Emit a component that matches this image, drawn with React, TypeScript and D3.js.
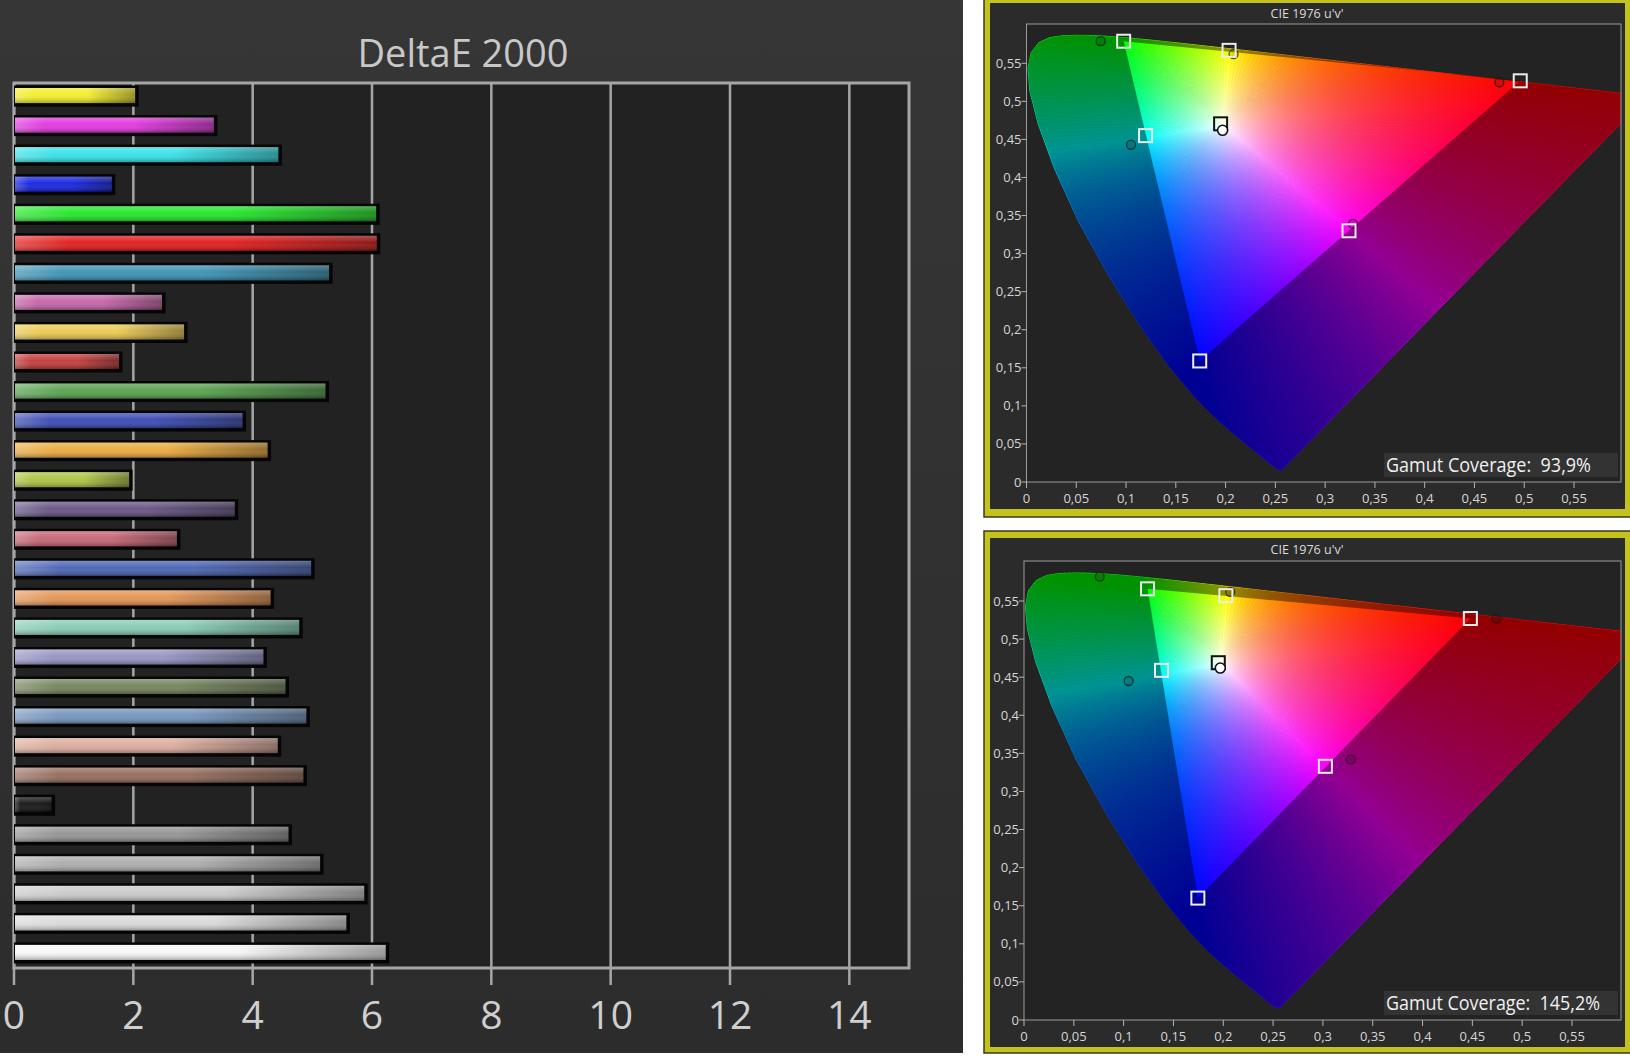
import * as d3 from "d3";

const FONT = "'Open Sans', 'Noto Sans', sans-serif";

// DeltaE 2000, one bar per measured patch, top to bottom
const PATCH_COLORS = [
  "#f2ee2a", "#e236de", "#34e2ea", "#1622e0", "#22e628", "#e21a1a",
  "#3a92b4", "#c664a8", "#ecca52", "#c23a3a", "#56a24c", "#3a4ab4",
  "#eaaa3c", "#acc444", "#665484", "#c66474", "#4a64b4", "#e49454",
  "#86ccb4", "#9494c4", "#74845c", "#7494bc", "#dcac9c", "#946c5c",
  "#141414", "#949494", "#acacac", "#cacaca", "#dadada", "#f6f6f6",
];
const DELTA_E = [
  2.03, 3.35, 4.43, 1.64, 6.07, 6.08, 5.28, 2.48, 2.85, 1.76,
  5.22, 3.83, 4.25, 1.93, 3.7, 2.73, 4.98, 4.3, 4.78, 4.18,
  4.55, 4.9, 4.42, 4.85, 0.63, 4.6, 5.13, 5.87, 5.57, 6.23,
];
const DE_TICKS = [0, 2, 4, 6, 8, 10, 12, 14];

// CIE 1931 spectral locus (x, y), 380 .. 700 nm
const LOCUS_X = [
  0.1741, 0.1733, 0.1714, 0.1689, 0.1644, 0.1566, 0.151, 0.144, 0.1355, 0.1241,
  0.1096, 0.0913, 0.0687, 0.0454, 0.0235, 0.0082, 0.0039, 0.0139, 0.0389, 0.0743,
  0.1142, 0.1547, 0.1929, 0.2296, 0.2658, 0.3016, 0.3373, 0.3731, 0.4087, 0.4441,
  0.4788, 0.5125, 0.5448, 0.5752, 0.6029, 0.627, 0.6658, 0.6915, 0.7079, 0.719,
  0.726, 0.73, 0.7334, 0.7347,
];
const LOCUS_Y = [
  0.005, 0.0048, 0.0051, 0.0069, 0.0109, 0.0177, 0.0227, 0.0297, 0.0399, 0.0578,
  0.0868, 0.1327, 0.2007, 0.295, 0.4127, 0.5384, 0.6548, 0.7502, 0.812, 0.8338,
  0.8262, 0.8059, 0.7816, 0.7543, 0.7243, 0.6923, 0.6589, 0.6245, 0.5896, 0.5547,
  0.5202, 0.4866, 0.4544, 0.4242, 0.3965, 0.3725, 0.334, 0.3083, 0.292, 0.2809,
  0.274, 0.27, 0.2666, 0.2653,
];
const D65_U = 0.1978;
const D65_V = 0.4683;
const UV_TICKS = [0, 0.05, 0.1, 0.15, 0.2, 0.25, 0.3, 0.35, 0.4, 0.45, 0.5, 0.55];

// target squares: R G B C M Y W
const P3_TARGET_U = [0.496, 0.0976, 0.174, 0.1196, 0.324, 0.2035, 0.195];
const P3_TARGET_V = [0.527, 0.579, 0.159, 0.455, 0.33, 0.567, 0.4705];
const SRGB_TARGET_U = [0.448, 0.124, 0.1745, 0.138, 0.3025, 0.2026, 0.195];
const SRGB_TARGET_V = [0.527, 0.566, 0.16, 0.459, 0.333, 0.557, 0.469];
// measured circles: R G C M Y W
const P3_MEAS_U = [0.475, 0.0745, 0.105, 0.328, 0.208, 0.197];
const P3_MEAS_V = [0.525, 0.579, 0.443, 0.339, 0.562, 0.462];
const SRGB_MEAS_U = [0.474, 0.076, 0.105, 0.328, 0.207, 0.197];
const SRGB_MEAS_V = [0.527, 0.582, 0.445, 0.342, 0.562, 0.462];
const COVERAGE = ["93,9%", "145,2%"];

type Pt = [number, number];

const toUV = (x: number, y: number): Pt => {
  const d = -2 * x + 12 * y + 3;
  return [(4 * x) / d, (9 * y) / d];
};

const bary = (p: Pt, a: Pt, b: Pt, c: Pt) => {
  const det = (b[1] - c[1]) * (a[0] - c[0]) + (c[0] - b[0]) * (a[1] - c[1]);
  const l1 = ((b[1] - c[1]) * (p[0] - c[0]) + (c[0] - b[0]) * (p[1] - c[1])) / det;
  const l2 = ((c[1] - a[1]) * (p[0] - c[0]) + (a[0] - c[0]) * (p[1] - c[1])) / det;
  return [l1, l2, 1 - l1 - l2];
};

// display colour of a chromaticity, clipped to the triangle's primaries
const colorAt = (p: Pt, tri: Pt[], wp: Pt) => {
  const l = bary(p, tri[0], tri[1], tri[2]);
  const lw = bary(wp, tri[0], tri[1], tri[2]);
  const c = l.map((v, i) => Math.max(0, v / lw[i]));
  const m = Math.max(...c) || 1;
  const [r, g, b] = c.map((v) => Math.round(255 * Math.pow(v / m, 0.85)));
  return `rgb(${r},${g},${b})`;
};

const fmtUV = (t: number) => String(Math.round(t * 100) / 100).replace(".", ",");

const PANELS = [
  {
    id: "p3",
    outer: { x: 984, y: -8, w: 660, h: 525 },
    inner: { x: 990, y: 3, w: 635, h: 506 },
    plot: { left: 1026.5, top: 24, right: 1621, bottom: 482 },
    u55: 1574,
    v55: 63.3,
    tu: P3_TARGET_U,
    tv: P3_TARGET_V,
    mu: P3_MEAS_U,
    mv: P3_MEAS_V,
    coverage: COVERAGE[0],
    covWidth: 205,
  },
  {
    id: "srgb",
    outer: { x: 984, y: 531, w: 660, h: 522 },
    inner: { x: 990, y: 538, w: 635, h: 509 },
    plot: { left: 1024, top: 561, right: 1621, bottom: 1020 },
    u55: 1572,
    v55: 601,
    tu: SRGB_TARGET_U,
    tv: SRGB_TARGET_V,
    mu: SRGB_MEAS_U,
    mv: SRGB_MEAS_V,
    coverage: COVERAGE[1],
    covWidth: 214,
  },
];

function BarChart() {
  const x = d3.scaleLinear([0, 15], [14, 909]);
  const y = d3
    .scaleBand<number>(d3.range(DELTA_E.length), [83, 965])
    .paddingInner(0.49)
    .paddingOuter(0.17);
  const bw = y.bandwidth();
  const top = 83;
  const bottom = 968;

  return (
    <g>
      <defs>
        <linearGradient id="left-bg" x1="0" y1="0" x2="0" y2="1">
          <stop offset="0" stopColor="#363636" />
          <stop offset="1" stopColor="#2c2c2c" />
        </linearGradient>
        {PATCH_COLORS.map((c, i) => (
          <linearGradient key={i} id={`bar-${i}`} x1="0" y1="0" x2="1" y2="0">
            <stop offset="0" stopColor={d3.interpolateRgb(c, "#ffffff")(0.25)} />
            <stop offset="0.15" stopColor={c} />
            <stop offset="0.6" stopColor={c} />
            <stop offset="1" stopColor={d3.color(c)!.darker(1.4).formatHex()} />
          </linearGradient>
        ))}
        <linearGradient id="bar-gloss" x1="0" y1="0" x2="0" y2="1">
          <stop offset="0" stopColor="#ffffff" stopOpacity={0.28} />
          <stop offset="0.45" stopColor="#ffffff" stopOpacity={0.04} />
          <stop offset="1" stopColor="#000000" stopOpacity={0.3} />
        </linearGradient>
      </defs>

      <rect x={0} y={0} width={963} height={1053} fill="url(#left-bg)" />
      <text x={463} y={67} textAnchor="middle" fontSize={38} fill="#c8c8c8">
        DeltaE 2000
      </text>

      <rect x={x(0)} y={top} width={x(15) - x(0)} height={bottom - top} fill="#222222" />
      {DE_TICKS.map((t) => (
        <line
          key={t}
          x1={x(t)}
          x2={x(t)}
          y1={top}
          y2={bottom + 17}
          stroke="#a6a6a6"
          strokeWidth={2.5}
        />
      ))}
      <rect
        x={x(0)}
        y={top}
        width={x(15) - x(0)}
        height={bottom - top}
        fill="none"
        stroke="#a6a6a6"
        strokeWidth={3}
      />

      {DELTA_E.map((v, i) => {
        const y0 = y(i)!;
        const x1 = x(v);
        return (
          <g key={i}>
            <rect x={x(0)} y={y0 - 2.5} width={x1 - x(0) + 3.5} height={bw + 6} fill="#050505" />
            <rect x={x(0) + 1} y={y0} width={x1 - x(0) - 1} height={bw} fill={`url(#bar-${i})`} />
            <rect x={x(0) + 1} y={y0} width={x1 - x(0) - 1} height={bw} fill="url(#bar-gloss)" />
          </g>
        );
      })}

      {DE_TICKS.map((t) => (
        <text
          key={t}
          x={x(t)}
          y={1029}
          textAnchor="middle"
          fontSize={39}
          fill="#cfcfcf"
        >
          {t}
        </text>
      ))}
    </g>
  );
}

function CiePanel({ cfg }: { cfg: (typeof PANELS)[number] }) {
  const { id, plot, outer, inner } = cfg;
  const x = d3.scaleLinear([0, 0.55], [plot.left, cfg.u55]);
  const y = d3.scaleLinear([0, 0.55], [plot.bottom, cfg.v55]);
  const tri: Pt[] = [0, 1, 2].map((i) => [cfg.tu[i], cfg.tv[i]] as Pt);
  const wp: Pt = [D65_U, D65_V];

  const locus: Pt[] = LOCUS_X.map((lx, i) => toUV(lx, LOCUS_Y[i]));
  const outline: Pt[] = [...locus];
  const line = d3
    .line<Pt>()
    .x((d) => x(d[0]))
    .y((d) => y(d[1]));

  // split the boundary (locus + line of purples) into short pieces for smooth shading
  const pieces: Pt[] = [];
  outline.forEach((p, i) => {
    const q = outline[(i + 1) % outline.length];
    const len = Math.hypot(x(q[0]) - x(p[0]), y(q[1]) - y(p[1]));
    const n = Math.max(1, Math.ceil(len / 5));
    for (let k = 0; k < n; k++) {
      pieces.push([p[0] + ((q[0] - p[0]) * k) / n, p[1] + ((q[1] - p[1]) * k) / n]);
    }
  });

  const fan = pieces.map((p, i) => {
    const q = pieces[(i + 1) % pieces.length];
    const m: Pt = [(p[0] + q[0]) / 2, (p[1] + q[1]) / 2];
    const stops = d3.range(0, 19).map((k) => {
      const s = k / 18;
      return {
        offset: s,
        color: colorAt([wp[0] + (m[0] - wp[0]) * s, wp[1] + (m[1] - wp[1]) * s], tri, wp),
      };
    });
    return { p, q, m, stops };
  });

  const dimPath = (line(outline) ?? "") + "Z" + (line(tri) ?? "") + "Z";
  const sq = 13;
  const tickColor = "#b4b4b4";
  const wx = x(wp[0]);
  const wy = y(wp[1]);

  return (
    <g>
      <defs>
        <clipPath id={`${id}-clip`}>
          <rect x={plot.left} y={plot.top} width={plot.right - plot.left} height={plot.bottom - plot.top} />
        </clipPath>
        {fan.map((f, i) => (
          <linearGradient
            key={i}
            id={`${id}-fan-${i}`}
            gradientUnits="userSpaceOnUse"
            x1={wx}
            y1={wy}
            x2={x(f.m[0])}
            y2={y(f.m[1])}
          >
            {f.stops.map((s, k) => (
              <stop key={k} offset={s.offset} stopColor={s.color} />
            ))}
          </linearGradient>
        ))}
      </defs>

      <rect x={outer.x} y={outer.y} width={outer.w} height={outer.h} fill="#c4c21c" stroke="#3a3a20" strokeWidth={1.5} />
      <rect x={inner.x} y={inner.y} width={inner.w} height={inner.h} fill="#2b2b2b" />

      <text x={1307} y={(plot.top + inner.y) / 2 + 4} textAnchor="middle" fontSize={12.5} fill="#dcdcdc">
        CIE 1976 u'v'
      </text>

      <rect
        x={plot.left}
        y={plot.top}
        width={plot.right - plot.left}
        height={plot.bottom - plot.top}
        fill="#232323"
      />

      <g clipPath={`url(#${id}-clip)`}>
        {fan.map((f, i) => {
          const d = `M${wx},${wy}L${x(f.p[0])},${y(f.p[1])}L${x(f.q[0])},${y(f.q[1])}Z`;
          return (
            <path
              key={i}
              d={d}
              fill={`url(#${id}-fan-${i})`}
              stroke={`url(#${id}-fan-${i})`}
              strokeWidth={0.8}
              strokeLinejoin="round"
            />
          );
        })}
        <path d={dimPath} fill="#000000" fillOpacity={0.42} fillRule="evenodd" />
      </g>

      <rect
        x={plot.left}
        y={plot.top}
        width={plot.right - plot.left}
        height={plot.bottom - plot.top}
        fill="none"
        stroke="#9c9c9c"
        strokeWidth={1}
      />

      {UV_TICKS.map((t) => (
        <g key={`v${t}`}>
          <line x1={plot.left - 5} x2={plot.left} y1={y(t)} y2={y(t)} stroke={tickColor} />
          <text x={plot.left - 5} y={y(t) + 4.5} textAnchor="end" fontSize={13} fill="#d6d6d6">
            {fmtUV(t)}
          </text>
        </g>
      ))}
      {UV_TICKS.map((t) => (
        <g key={`u${t}`}>
          <line x1={x(t)} x2={x(t)} y1={plot.bottom} y2={plot.bottom + 6} stroke={tickColor} />
          <text x={x(t)} y={plot.bottom + 21} textAnchor="middle" fontSize={13} fill="#d6d6d6">
            {fmtUV(t)}
          </text>
        </g>
      ))}

      {cfg.mu.slice(0, 5).map((u, i) => (
        <circle
          key={`m${i}`}
          cx={x(u)}
          cy={y(cfg.mv[i])}
          r={4.5}
          fill="#000000"
          fillOpacity={0.12}
          stroke="#1c1c1c"
          strokeOpacity={0.75}
          strokeWidth={1.3}
        />
      ))}
      {cfg.tu.map((u, i) => (
        <rect
          key={`t${i}`}
          x={x(u) - sq / 2}
          y={y(cfg.tv[i]) - sq / 2}
          width={sq}
          height={sq}
          fill="none"
          stroke={i === 6 ? "#111111" : "#ececec"}
          strokeWidth={2}
        />
      ))}
      <circle
        cx={x(cfg.mu[5])}
        cy={y(cfg.mv[5])}
        r={5}
        fill="#ffffff"
        stroke="#111111"
        strokeWidth={1.6}
      />

      <rect x={1384} y={plot.bottom - 29} width={plot.right - 3 - 1384} height={24} fill="#333333" />
      <text
        x={1386}
        y={plot.bottom - 10}
        fontSize={20}
        fill="#f0f0f0"
        textLength={cfg.covWidth}
        lengthAdjust="spacingAndGlyphs"
        xmlSpace="preserve"
      >
        {`Gamut Coverage:  ${cfg.coverage}`}
      </text>
    </g>
  );
}

export default function App() {
  return (
    <svg
      width={1630}
      height={1056}
      viewBox="0 0 1630 1056"
      style={{ position: "absolute", left: 0, top: 0, background: "#ffffff" }}
      fontFamily={FONT}
    >
      <rect x={0} y={0} width={1630} height={1056} fill="#ffffff" />
      <BarChart />
      {PANELS.map((p) => (
        <CiePanel key={p.id} cfg={p} />
      ))}
    </svg>
  );
}
